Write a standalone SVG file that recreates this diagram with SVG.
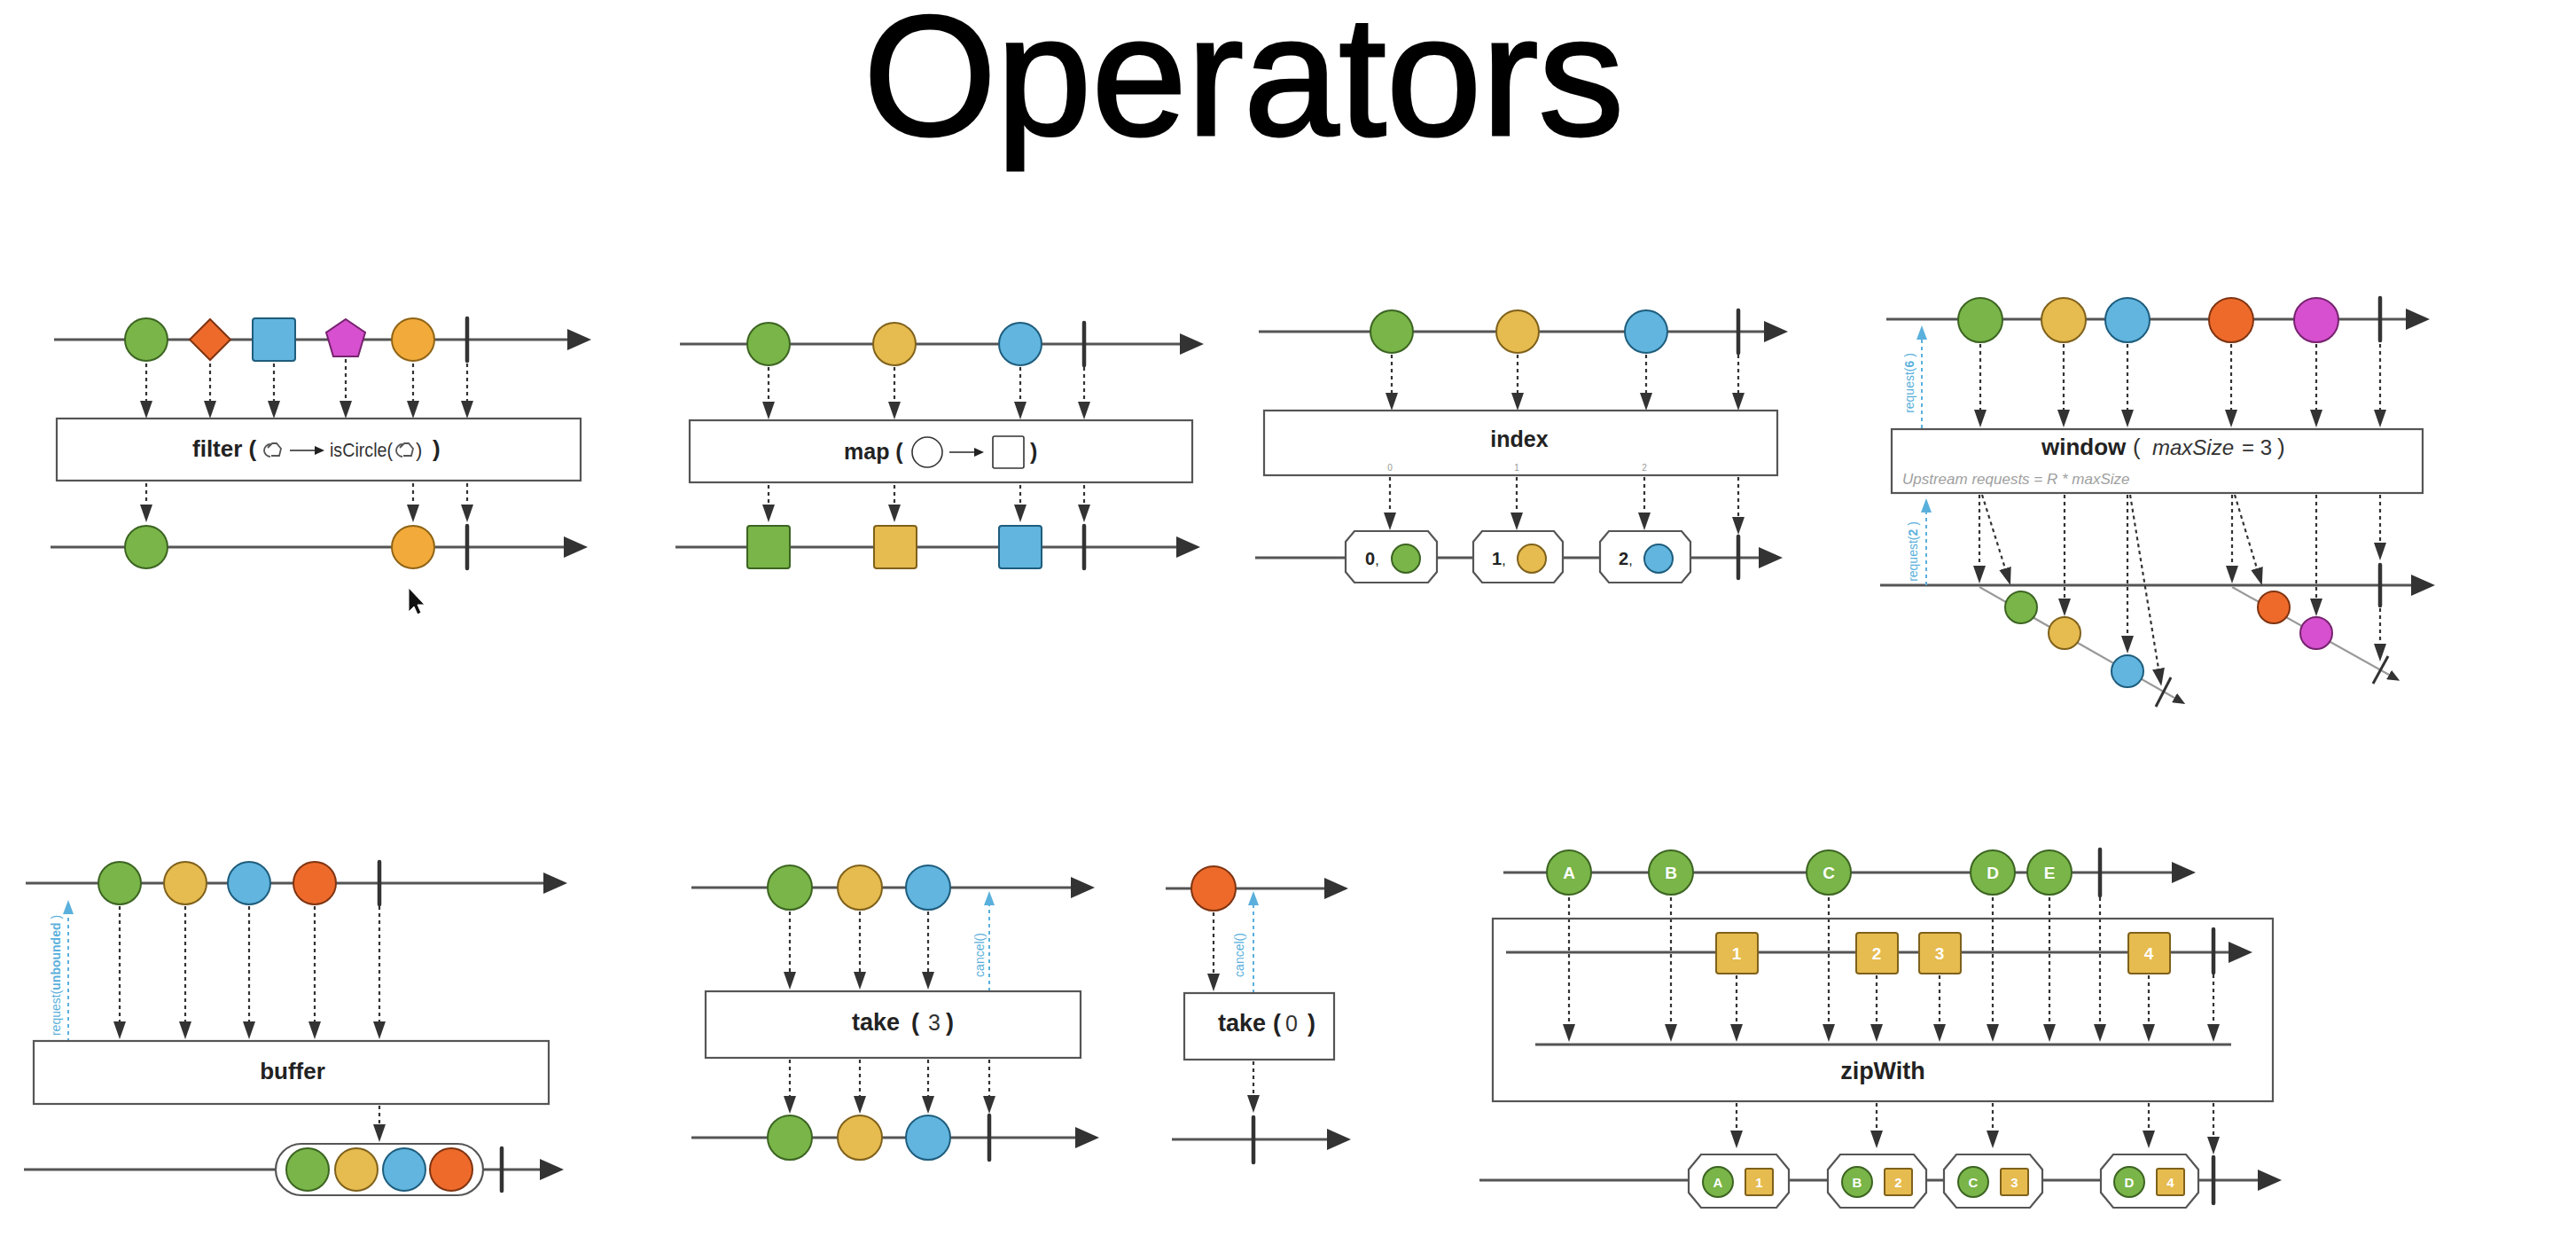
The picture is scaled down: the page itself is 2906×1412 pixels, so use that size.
<svg xmlns="http://www.w3.org/2000/svg" xmlns:xlink="http://www.w3.org/1999/xlink" width="2906" height="1412" viewBox="0 0 2906 1412">
  <style>
    .tl{fill:none;stroke:#555;stroke-width:3;marker-end:url(#tlArrow)}
    .bar{stroke:#333;stroke-width:4.5;stroke-linecap:round}
    .dash{fill:none;stroke:#333;stroke-width:2.2;stroke-dasharray:4 4;marker-end:url(#dArrow)}
    .req{fill:none;stroke:#5ab0dc;stroke-width:2;stroke-dasharray:4 4;marker-end:url(#bArrow)}
    .win{fill:none;stroke:#9a9a9a;stroke-width:2.2;marker-end:url(#sArrow)}
    .op{fill:#fff;stroke:#555;stroke-width:2.2}
    .oct{fill:#fff;stroke:#555;stroke-width:2.2}
    .g{fill:#79b548;stroke:#3c6422;stroke-width:2}
    .y{fill:#e6bb4f;stroke:#7f611b;stroke-width:2}
    .o{fill:#f2aa3a;stroke:#8f6416;stroke-width:2}
    .b{fill:#61b5de;stroke:#1e5d7d;stroke-width:2}
    .r{fill:#ee6a2b;stroke:#7f3411;stroke-width:2}
    .m{fill:#d650cf;stroke:#77236f;stroke-width:2}
    .lbl{font-family:"Liberation Sans",Arial,sans-serif;font-weight:bold;fill:#222}
    .thin{font-family:"Liberation Sans",Arial,sans-serif;font-weight:normal;fill:#333}
    .reqt{font-family:"Liberation Sans",Arial,sans-serif;font-size:14px;fill:#5ab0dc}
    .wt{font-family:"Liberation Sans",Arial,sans-serif;font-weight:bold;fill:#fff;text-anchor:middle}
  </style>
  <defs>
    <marker id="tlArrow" markerUnits="userSpaceOnUse" markerWidth="28" markerHeight="24" refX="0" refY="12" orient="auto">
      <path d="M0,0 L27,12 L0,24 Z" fill="#333"/>
    </marker>
    <marker id="dArrow" markerUnits="userSpaceOnUse" markerWidth="20" markerHeight="14" refX="0" refY="7" orient="auto">
      <path d="M0,0 L20,7 L0,14 Z" fill="#333"/>
    </marker>
    <marker id="bArrow" markerUnits="userSpaceOnUse" markerWidth="16" markerHeight="12" refX="0" refY="6" orient="auto">
      <path d="M0,0 L16,6 L0,12 Z" fill="#5ab0dc"/>
    </marker>
    <marker id="sArrow" markerUnits="userSpaceOnUse" markerWidth="14" markerHeight="12" refX="0" refY="6" orient="auto">
      <path d="M0,0 L14,6 L0,12 Z" fill="#333"/>
    </marker>
    <!-- generic shape glyph used inside the filter predicate -->
    <g id="anyShape">
      <path d="M2,-7 A7,7 0 1 0 2,7" fill="none" stroke="#555" stroke-width="1.8"/>
      <path d="M-1,-3 L4,-8 L9,-8 L14,-2 L12,6 L3,6" fill="none" stroke="#555" stroke-width="1.8"/>
    </g>
  </defs>

  <rect width="2906" height="1412" fill="#fff"/>

  <text x="1403" y="152" text-anchor="middle" font-family="Liberation Sans, Arial, sans-serif" font-size="193" fill="#000" stroke="#000" stroke-width="3">Operators</text>

  <!-- ===== connectors ===== -->
  <g id="connectors">
    <!-- timelines -->
    <path class="tl" d="M61,383 H640"/>
    <path class="tl" d="M57,617 H636"/>
    <path class="tl" d="M767,388 H1331"/>
    <path class="tl" d="M762,617 H1327"/>
    <path class="tl" d="M1420,374 H1990"/>
    <path class="tl" d="M1416,629 H1984"/>
    <path class="tl" d="M2128,360 H2714"/>
    <path class="tl" d="M2121,660 H2720"/>
    <path class="tl" d="M29,996 H613"/>
    <path class="tl" d="M27,1319 H609"/>
    <path class="tl" d="M780,1001 H1208"/>
    <path class="tl" d="M780,1283 H1213"/>
    <path class="tl" d="M1315,1002 H1494"/>
    <path class="tl" d="M1322,1285 H1497"/>
    <path class="tl" d="M1696,984 H2450"/>
    <path class="tl" d="M1669,1331 H2547"/>

    <!-- filter -->
    <path class="dash" d="M165,410 V452"/>
    <path class="dash" d="M237,410 V452"/>
    <path class="dash" d="M309,410 V452"/>
    <path class="dash" d="M390,405 V452"/>
    <path class="dash" d="M466,410 V452"/>
    <path class="dash" d="M527,410 V452"/>
    <path class="dash" d="M165,545 V569"/>
    <path class="dash" d="M466,545 V569"/>
    <path class="dash" d="M527,545 V569"/>

    <!-- map -->
    <path class="dash" d="M867,414 V453"/>
    <path class="dash" d="M1009,414 V453"/>
    <path class="dash" d="M1151,414 V453"/>
    <path class="dash" d="M1223,414 V453"/>
    <path class="dash" d="M867,547 V569"/>
    <path class="dash" d="M1009,547 V569"/>
    <path class="dash" d="M1151,547 V569"/>
    <path class="dash" d="M1223,547 V569"/>

    <!-- index -->
    <path class="dash" d="M1570,400 V443"/>
    <path class="dash" d="M1712,400 V443"/>
    <path class="dash" d="M1857,400 V443"/>
    <path class="dash" d="M1961,400 V443"/>
    <path class="dash" d="M1568,538 V578"/>
    <path class="dash" d="M1711,538 V578"/>
    <path class="dash" d="M1855,538 V578"/>
    <path class="dash" d="M1961,538 V583"/>

    <!-- window -->
    <path class="dash" d="M2234,388 V462"/>
    <path class="dash" d="M2328,388 V462"/>
    <path class="dash" d="M2400,388 V462"/>
    <path class="dash" d="M2517,388 V462"/>
    <path class="dash" d="M2613,388 V462"/>
    <path class="dash" d="M2685,388 V462"/>
    <path class="req" d="M2168,483 V383"/>
    <path class="req" d="M2173,660 V578"/>
    <path class="win" d="M2233,662 L2453,787"/>
    <path class="win" d="M2518,662 L2695,761"/>
    <path class="dash" d="M2233,558 V638"/>
    <path class="dash" d="M2236,558 L2262,641"/>
    <path class="dash" d="M2329,558 V675"/>
    <path class="dash" d="M2400,558 V717"/>
    <path class="dash" d="M2403,558 L2435,754"/>
    <path class="dash" d="M2518,558 V638"/>
    <path class="dash" d="M2521,558 L2546,641"/>
    <path class="dash" d="M2613,558 V675"/>
    <path class="dash" d="M2685,558 V612"/>
    <path class="dash" d="M2685,686 V726"/>

    <!-- buffer -->
    <path class="req" d="M77,1175 V1031"/>
    <path class="dash" d="M135,1022 V1152"/>
    <path class="dash" d="M209,1022 V1152"/>
    <path class="dash" d="M281,1022 V1152"/>
    <path class="dash" d="M355,1022 V1152"/>
    <path class="dash" d="M428,1022 V1152"/>
    <path class="dash" d="M428,1247 V1268"/>

    <!-- take(3) -->
    <path class="req" d="M1116,1118 V1021"/>
    <path class="dash" d="M891,1028 V1096"/>
    <path class="dash" d="M970,1028 V1096"/>
    <path class="dash" d="M1047,1028 V1096"/>
    <path class="dash" d="M891,1195 V1236"/>
    <path class="dash" d="M970,1195 V1236"/>
    <path class="dash" d="M1047,1195 V1236"/>
    <path class="dash" d="M1116,1195 V1236"/>

    <!-- take(0) -->
    <path class="req" d="M1414,1120 V1021"/>
    <path class="dash" d="M1369,1029 V1098"/>
    <path class="dash" d="M1414,1197 V1235"/>

    <!-- zipWith -->
    <path class="dash" d="M1770,1012 V1155"/>
    <path class="dash" d="M1885,1012 V1155"/>
    <path class="dash" d="M2063,1012 V1155"/>
    <path class="dash" d="M2248,1012 V1155"/>
    <path class="dash" d="M2312,1012 V1155"/>
    <path class="dash" d="M2369,1012 V1155"/>
    <path class="dash" d="M1959,1100 V1155"/>
    <path class="dash" d="M2117,1100 V1155"/>
    <path class="dash" d="M2188,1100 V1155"/>
    <path class="dash" d="M2424,1100 V1155"/>
    <path class="dash" d="M2497,1099 V1155"/>
    <path class="dash" d="M1959,1244 V1275"/>
    <path class="dash" d="M2117,1244 V1275"/>
    <path class="dash" d="M2248,1244 V1275"/>
    <path class="dash" d="M2424,1244 V1275"/>
    <path class="dash" d="M2497,1244 V1282"/>
  </g>

  <!-- ===== filter ===== -->
  <g id="filter">
    <circle class="g" cx="165" cy="383" r="24"/>
    <polygon class="r" points="237,360 260,383 237,406 214,383"/>
    <rect class="b" x="285" y="359" width="48" height="48" rx="3"/>
    <polygon class="m" points="390,360 412,375 404,402 376,402 368,375"/>
    <circle class="o" cx="466" cy="383" r="24"/>
    <line class="bar" x1="527" y1="359" x2="527" y2="407"/>
    <rect class="op" x="64" y="472" width="591" height="70"/>
    <text class="lbl" x="217" y="515" font-size="26">filter (</text>
    <use xlink:href="#anyShape" href="#anyShape" x="303" y="508"/>
    <line x1="327" y1="508" x2="356" y2="508" stroke="#333" stroke-width="1.6"/>
    <path d="M355,503 L366,508 L355,513 Z" fill="#222"/>
    <text class="thin" x="372" y="515" font-size="22" textLength="71" lengthAdjust="spacingAndGlyphs">isCircle(</text>
    <use xlink:href="#anyShape" href="#anyShape" x="452" y="508"/>
    <text class="thin" x="469" y="515" font-size="22">)</text>
    <text class="lbl" x="488" y="515" font-size="26">)</text>
    <circle class="g" cx="165" cy="617" r="24"/>
    <circle class="o" cx="466" cy="617" r="24"/>
    <line class="bar" x1="527" y1="593" x2="527" y2="641"/>
    <path d="M461,663 L461,690 L467,684 L471,693 L475,691 L471,682 L479,682 Z" fill="#111" stroke="#fff" stroke-width="1"/>
  </g>

  <!-- ===== map ===== -->
  <g id="map">
    <circle class="g" cx="867" cy="388" r="24"/>
    <circle class="y" cx="1009" cy="388" r="24"/>
    <circle class="b" cx="1151" cy="388" r="24"/>
    <line class="bar" x1="1223" y1="364" x2="1223" y2="412"/>
    <rect class="op" x="778" y="474" width="567" height="70"/>
    <text class="lbl" x="952" y="518" font-size="25">map (</text>
    <circle cx="1046" cy="510" r="17" fill="#fff" stroke="#333" stroke-width="1.6"/>
    <line x1="1071" y1="510" x2="1100" y2="510" stroke="#333" stroke-width="1.6"/>
    <path d="M1099,505 L1110,510 L1099,515 Z" fill="#222"/>
    <rect x="1120" y="492" width="35" height="36" rx="2" fill="#fff" stroke="#333" stroke-width="1.6"/>
    <text class="lbl" x="1162" y="518" font-size="25">)</text>
    <rect class="g" x="843" y="593" width="48" height="48" rx="3"/>
    <rect class="y" x="986" y="593" width="48" height="48" rx="3"/>
    <rect class="b" x="1127" y="593" width="48" height="48" rx="3"/>
    <line class="bar" x1="1223" y1="593" x2="1223" y2="641"/>
  </g>

  <!-- ===== index ===== -->
  <g id="index">
    <circle class="g" cx="1570" cy="374" r="24"/>
    <circle class="y" cx="1712" cy="374" r="24"/>
    <circle class="b" cx="1857" cy="374" r="24"/>
    <line class="bar" x1="1961" y1="350" x2="1961" y2="398"/>
    <rect class="op" x="1426" y="463" width="579" height="73"/>
    <text class="lbl" x="1714" y="504" font-size="25" text-anchor="middle">index</text>
    <text class="thin" x="1568" y="531" font-size="10" text-anchor="middle" style="fill:#999">0</text>
    <text class="thin" x="1711" y="531" font-size="10" text-anchor="middle" style="fill:#999">1</text>
    <text class="thin" x="1855" y="531" font-size="10" text-anchor="middle" style="fill:#999">2</text>
    <path class="oct" d="M1528,599 L1611,599 L1621,611 L1621,645 L1611,657 L1528,657 L1518,645 L1518,611 Z"/>
    <path class="oct" d="M1672,599 L1753,599 L1763,611 L1763,645 L1753,657 L1672,657 L1662,645 L1662,611 Z"/>
    <path class="oct" d="M1815,599 L1897,599 L1907,611 L1907,645 L1897,657 L1815,657 L1805,645 L1805,611 Z"/>
    <text class="lbl" x="1540" y="637" font-size="20">0<tspan font-weight="normal" font-size="16">,</tspan></text>
    <circle class="g" cx="1586" cy="630" r="16"/>
    <text class="lbl" x="1683" y="637" font-size="20">1<tspan font-weight="normal" font-size="16">,</tspan></text>
    <circle class="y" cx="1728" cy="630" r="16"/>
    <text class="lbl" x="1826" y="637" font-size="20">2<tspan font-weight="normal" font-size="16">,</tspan></text>
    <circle class="b" cx="1871" cy="630" r="16"/>
    <line class="bar" x1="1961" y1="605" x2="1961" y2="652"/>
  </g>

  <!-- ===== window ===== -->
  <g id="window">
    <circle class="g" cx="2234" cy="361" r="25"/>
    <circle class="y" cx="2328" cy="361" r="25"/>
    <circle class="b" cx="2400" cy="361" r="25"/>
    <circle class="r" cx="2517" cy="361" r="25"/>
    <circle class="m" cx="2613" cy="361" r="25"/>
    <line class="bar" x1="2685" y1="336" x2="2685" y2="384"/>
    <text class="reqt" transform="translate(2159,432) rotate(-90)" text-anchor="middle">request(<tspan font-weight="bold">6</tspan> )</text>
    <rect class="op" x="2134" y="484" width="599" height="72"/>
    <text class="lbl" x="2303" y="513" font-size="26">window</text>
    <text class="thin" x="2406" y="513" font-size="26">(</text>
    <text class="thin" x="2428" y="513" font-size="24" font-style="italic">maxSize</text>
    <text class="thin" x="2529" y="513" font-size="24">= 3</text>
    <text class="thin" x="2569" y="513" font-size="26">)</text>
    <text class="thin" x="2146" y="546" font-size="17" font-style="italic" style="fill:#a0a0a0">Upstream requests = R * maxSize</text>
    <text class="reqt" transform="translate(2163,622) rotate(-90)" text-anchor="middle">request(<tspan font-weight="bold">2</tspan> )</text>
    <circle class="g" cx="2280" cy="685" r="18"/>
    <circle class="y" cx="2329" cy="714" r="18"/>
    <circle class="b" cx="2400" cy="757" r="18"/>
    <line x1="2432" y1="797" x2="2449" y2="764" stroke="#333" stroke-width="3"/>
    <circle class="r" cx="2565" cy="685" r="18"/>
    <circle class="m" cx="2613" cy="714" r="18"/>
    <line class="bar" x1="2685" y1="637" x2="2685" y2="683"/>
    <line x1="2677" y1="771" x2="2694" y2="740" stroke="#333" stroke-width="3"/>
  </g>

  <!-- ===== buffer ===== -->
  <g id="buffer">
    <circle class="g" cx="135" cy="996" r="24"/>
    <circle class="y" cx="209" cy="996" r="24"/>
    <circle class="b" cx="281" cy="996" r="24"/>
    <circle class="r" cx="355" cy="996" r="24"/>
    <line class="bar" x1="428" y1="972" x2="428" y2="1020"/>
    <text class="reqt" transform="translate(68,1100) rotate(-90)" text-anchor="middle">request(<tspan font-weight="bold">unbounded</tspan> )</text>
    <rect class="op" x="38" y="1174" width="581" height="71"/>
    <text class="lbl" x="330" y="1217" font-size="26" text-anchor="middle">buffer</text>
    <rect x="311" y="1290" width="234" height="58" rx="29" fill="#fff" stroke="#555" stroke-width="2.2"/>
    <circle class="g" cx="347" cy="1319" r="24"/>
    <circle class="y" cx="402" cy="1319" r="24"/>
    <circle class="b" cx="456" cy="1319" r="24"/>
    <circle class="r" cx="509" cy="1319" r="24"/>
    <line class="bar" x1="566" y1="1295" x2="566" y2="1343"/>
  </g>

  <!-- ===== take(3) ===== -->
  <g id="take3">
    <circle class="g" cx="891" cy="1001" r="25"/>
    <circle class="y" cx="970" cy="1001" r="25"/>
    <circle class="b" cx="1047" cy="1001" r="25"/>
    <text class="reqt" transform="translate(1110,1077) rotate(-90)" text-anchor="middle">cancel()</text>
    <rect class="op" x="796" y="1118" width="423" height="75"/>
    <text class="lbl" x="961" y="1162" font-size="27">take</text>
    <text class="lbl" x="1028" y="1162" font-size="27">(</text>
    <text class="thin" x="1047" y="1162" font-size="25">3</text>
    <text class="lbl" x="1067" y="1162" font-size="27">)</text>
    <circle class="g" cx="891" cy="1283" r="25"/>
    <circle class="y" cx="970" cy="1283" r="25"/>
    <circle class="b" cx="1047" cy="1283" r="25"/>
    <line class="bar" x1="1116" y1="1258" x2="1116" y2="1308"/>
  </g>

  <!-- ===== take(0) ===== -->
  <g id="take0">
    <circle class="r" cx="1369" cy="1002" r="25"/>
    <text class="reqt" transform="translate(1403,1077) rotate(-90)" text-anchor="middle">cancel()</text>
    <rect class="op" x="1336" y="1120" width="169" height="75"/>
    <text class="lbl" x="1374" y="1163" font-size="27">take</text>
    <text class="lbl" x="1436" y="1163" font-size="27">(</text>
    <text class="thin" x="1450" y="1163" font-size="25">0</text>
    <text class="lbl" x="1475" y="1163" font-size="27">)</text>
    <line class="bar" x1="1414" y1="1260" x2="1414" y2="1311"/>
  </g>

  <!-- ===== zipWith ===== -->
  <g id="zipWith">
    <!-- unfilled so the incoming dotted arrows stay visible inside the box -->
    <rect x="1684" y="1036" width="880" height="206" fill="none" stroke="#555" stroke-width="2.2"/>
    <path class="tl" d="M1699,1074 H2514"/>
    <g id="zip-source-a">
      <circle class="g" cx="1770" cy="984" r="25"/><text class="wt" x="1770" y="991" font-size="19">A</text>
      <circle class="g" cx="1885" cy="984" r="25"/><text class="wt" x="1885" y="991" font-size="19">B</text>
      <circle class="g" cx="2063" cy="984" r="25"/><text class="wt" x="2063" y="991" font-size="19">C</text>
      <circle class="g" cx="2248" cy="984" r="25"/><text class="wt" x="2248" y="991" font-size="19">D</text>
      <circle class="g" cx="2312" cy="984" r="25"/><text class="wt" x="2312" y="991" font-size="19">E</text>
      <line class="bar" x1="2369" y1="958" x2="2369" y2="1010"/>
    </g>
    <g id="zip-source-b">
      <rect class="y" x="1936" y="1052" width="47" height="46" rx="3"/><text class="wt" x="1959" y="1082" font-size="19">1</text>
      <rect class="y" x="2094" y="1052" width="47" height="46" rx="3"/><text class="wt" x="2117" y="1082" font-size="19">2</text>
      <rect class="y" x="2165" y="1052" width="47" height="46" rx="3"/><text class="wt" x="2188" y="1082" font-size="19">3</text>
      <rect class="y" x="2401" y="1052" width="47" height="46" rx="3"/><text class="wt" x="2424" y="1082" font-size="19">4</text>
      <line class="bar" x1="2497" y1="1048" x2="2497" y2="1097"/>
    </g>
    <line x1="1732" y1="1178" x2="2517" y2="1178" stroke="#555" stroke-width="3"/>
    <text class="lbl" x="2124" y="1217" font-size="27" text-anchor="middle">zipWith</text>
    <g id="zip-output">
      <path class="oct" d="M1919,1302 L2004,1302 L2018,1319 L2018,1345 L2004,1362 L1919,1362 L1905,1345 L1905,1319 Z"/>
      <circle class="g" cx="1938" cy="1333" r="17"/><text class="wt" x="1938" y="1339" font-size="15">A</text>
      <rect class="y" x="1969" y="1318" width="31" height="30" rx="2"/><text class="wt" x="1984.5" y="1339" font-size="15">1</text>
      <path class="oct" d="M2076,1302 L2159,1302 L2173,1319 L2173,1345 L2159,1362 L2076,1362 L2062,1345 L2062,1319 Z"/>
      <circle class="g" cx="2095" cy="1333" r="17"/><text class="wt" x="2095" y="1339" font-size="15">B</text>
      <rect class="y" x="2126" y="1318" width="31" height="30" rx="2"/><text class="wt" x="2141.5" y="1339" font-size="15">2</text>
      <path class="oct" d="M2207,1302 L2290,1302 L2304,1319 L2304,1345 L2290,1362 L2207,1362 L2193,1345 L2193,1319 Z"/>
      <circle class="g" cx="2226" cy="1333" r="17"/><text class="wt" x="2226" y="1339" font-size="15">C</text>
      <rect class="y" x="2257" y="1318" width="31" height="30" rx="2"/><text class="wt" x="2272.5" y="1339" font-size="15">3</text>
      <path class="oct" d="M2384,1302 L2466,1302 L2480,1319 L2480,1345 L2466,1362 L2384,1362 L2370,1345 L2370,1319 Z"/>
      <circle class="g" cx="2402" cy="1333" r="17"/><text class="wt" x="2402" y="1339" font-size="15">D</text>
      <rect class="y" x="2433" y="1318" width="31" height="30" rx="2"/><text class="wt" x="2448.5" y="1339" font-size="15">4</text>
      <line class="bar" x1="2497" y1="1305" x2="2497" y2="1357"/>
    </g>
  </g>
</svg>
